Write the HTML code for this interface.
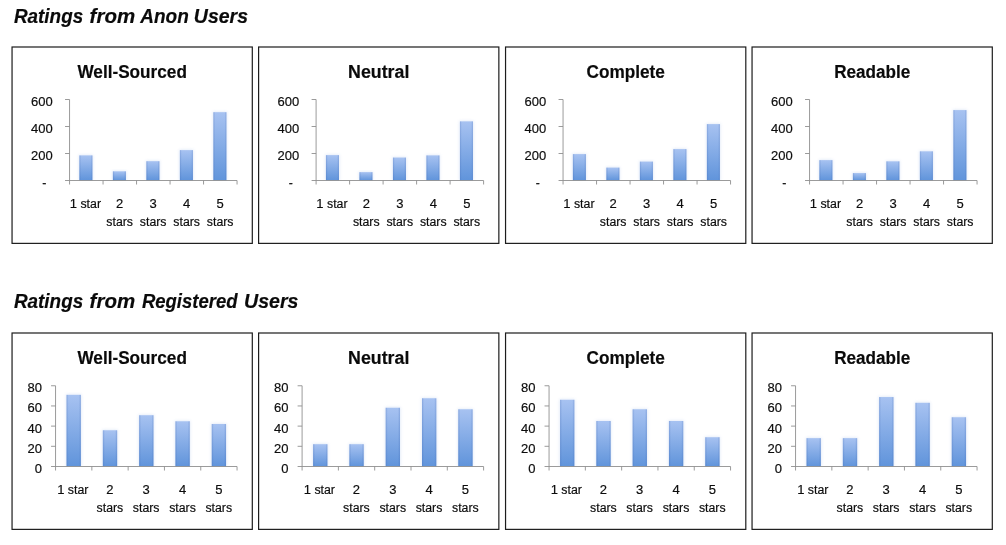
<!DOCTYPE html>
<html><head><meta charset="utf-8"><title>Ratings</title>
<style>
html,body{margin:0;padding:0;background:#fff;}
body{width:1006px;height:545px;overflow:hidden;font-family:"Liberation Sans",sans-serif;}
svg{display:block;will-change:transform;}
text{font-family:"Liberation Sans",sans-serif;fill:#0c0c0c;stroke:#0c0c0c;stroke-width:.18px;}
.h{font-size:20.4px;font-weight:bold;font-style:italic;fill:#0a0a0a;}
.t{font-size:17.5px;font-weight:bold;fill:#0a0a0a;}
.l{font-size:12.3px;}
.d{font-size:13px;}
</style></head><body>
<svg width="1006" height="545" viewBox="0 0 1006 545">
<defs>
<linearGradient id="g" x1="0" y1="0" x2="0" y2="1"><stop offset="0" stop-color="#a7c2f1"/><stop offset="1" stop-color="#6094db"/></linearGradient>
<linearGradient id="e" x1="0" y1="0" x2="1" y2="0"><stop offset="0" stop-color="#3c64b0" stop-opacity=".28"/><stop offset=".14" stop-color="#3c64b0" stop-opacity="0"/><stop offset=".86" stop-color="#3c64b0" stop-opacity="0"/><stop offset="1" stop-color="#3c64b0" stop-opacity=".28"/></linearGradient>
<filter id="sh" x="-40%" y="-10%" width="180%" height="120%"><feGaussianBlur stdDeviation="1.6"/></filter>
</defs>
<rect width="1006" height="545" fill="#fff"/>
<text x="13.90" y="23" class="h" textLength="69.30" lengthAdjust="spacingAndGlyphs">Ratings</text>
<text x="89.60" y="23" class="h" textLength="45.60" lengthAdjust="spacingAndGlyphs">from</text>
<text x="140.20" y="23" class="h" textLength="48.60" lengthAdjust="spacingAndGlyphs">Anon</text>
<text x="193.80" y="23" class="h" textLength="54.20" lengthAdjust="spacingAndGlyphs">Users</text>
<text x="13.90" y="307.75" class="h" textLength="69.30" lengthAdjust="spacingAndGlyphs">Ratings</text>
<text x="89.60" y="307.75" class="h" textLength="45.60" lengthAdjust="spacingAndGlyphs">from</text>
<text x="141.90" y="307.75" class="h" textLength="95.70" lengthAdjust="spacingAndGlyphs">Registered</text>
<text x="244.00" y="307.75" class="h" textLength="54.50" lengthAdjust="spacingAndGlyphs">Users</text>
<rect x="12.05" y="47.00" width="240.25" height="196.38" fill="#fff" stroke="#1c1c1c" stroke-width="1.2"/>
<text x="132.18" y="78.00" class="t" text-anchor="middle" textLength="109.5" lengthAdjust="spacingAndGlyphs">Well-Sourced</text>
<rect x="78.90" y="154.90" width="14.00" height="25.60" fill="#9db9e8" opacity="0.32" filter="url(#sh)"/>
<rect x="112.40" y="170.82" width="14.00" height="9.68" fill="#9db9e8" opacity="0.32" filter="url(#sh)"/>
<rect x="145.90" y="160.70" width="14.00" height="19.80" fill="#9db9e8" opacity="0.32" filter="url(#sh)"/>
<rect x="179.40" y="149.63" width="14.00" height="30.87" fill="#9db9e8" opacity="0.32" filter="url(#sh)"/>
<rect x="212.90" y="111.69" width="14.00" height="68.81" fill="#9db9e8" opacity="0.32" filter="url(#sh)"/>
<rect x="69.55" y="181.00" width="171.50" height="8" fill="#fff"/>
<rect x="79.40" y="155.40" width="13.00" height="25.10" fill="url(#g)"/>
<rect x="79.40" y="155.40" width="13.00" height="25.10" fill="url(#e)"/>
<rect x="112.90" y="171.32" width="13.00" height="9.18" fill="url(#g)"/>
<rect x="112.90" y="171.32" width="13.00" height="9.18" fill="url(#e)"/>
<rect x="146.40" y="161.20" width="13.00" height="19.30" fill="url(#g)"/>
<rect x="146.40" y="161.20" width="13.00" height="19.30" fill="url(#e)"/>
<rect x="179.90" y="150.13" width="13.00" height="30.37" fill="url(#g)"/>
<rect x="179.90" y="150.13" width="13.00" height="30.37" fill="url(#e)"/>
<rect x="213.40" y="112.19" width="13.00" height="68.31" fill="url(#g)"/>
<rect x="213.40" y="112.19" width="13.00" height="68.31" fill="url(#e)"/>
<path d="M69.55 99.50V184.50M65.05 180.50H237.05" stroke="#909090" stroke-width="0.9" fill="none"/>
<text x="44.25" y="187.40" class="l" text-anchor="middle">-</text>
<text x="52.65" y="160.40" class="l d" text-anchor="end">200</text>
<text x="52.65" y="133.40" class="l d" text-anchor="end">400</text>
<text x="52.65" y="106.40" class="l d" text-anchor="end">600</text>
<path d="M65.05 153.50H69.55M65.05 126.50H69.55M65.05 99.50H69.55M103.05 180.50V184.50M136.55 180.50V184.50M170.05 180.50V184.50M203.55 180.50V184.50M237.05 180.50V184.50" stroke="#909090" stroke-width="0.9" fill="none"/>
<text x="85.40" y="208.00" class="l" text-anchor="middle" textLength="31.3" lengthAdjust="spacingAndGlyphs"><tspan class="d">1</tspan> star</text>
<text x="119.70" y="208.00" class="l d" text-anchor="middle">2</text>
<text x="119.70" y="226.25" class="l" text-anchor="middle">stars</text>
<text x="153.20" y="208.00" class="l d" text-anchor="middle">3</text>
<text x="153.20" y="226.25" class="l" text-anchor="middle">stars</text>
<text x="186.70" y="208.00" class="l d" text-anchor="middle">4</text>
<text x="186.70" y="226.25" class="l" text-anchor="middle">stars</text>
<text x="220.20" y="208.00" class="l d" text-anchor="middle">5</text>
<text x="220.20" y="226.25" class="l" text-anchor="middle">stars</text>
<rect x="258.60" y="47.00" width="240.25" height="196.38" fill="#fff" stroke="#1c1c1c" stroke-width="1.2"/>
<text x="378.73" y="78.00" class="t" text-anchor="middle" textLength="61.25" lengthAdjust="spacingAndGlyphs">Neutral</text>
<rect x="325.45" y="154.62" width="14.00" height="25.88" fill="#9db9e8" opacity="0.32" filter="url(#sh)"/>
<rect x="358.95" y="171.63" width="14.00" height="8.87" fill="#9db9e8" opacity="0.32" filter="url(#sh)"/>
<rect x="392.45" y="157.06" width="14.00" height="23.44" fill="#9db9e8" opacity="0.32" filter="url(#sh)"/>
<rect x="425.95" y="154.90" width="14.00" height="25.60" fill="#9db9e8" opacity="0.32" filter="url(#sh)"/>
<rect x="459.45" y="120.88" width="14.00" height="59.62" fill="#9db9e8" opacity="0.32" filter="url(#sh)"/>
<rect x="316.10" y="181.00" width="171.50" height="8" fill="#fff"/>
<rect x="325.95" y="155.12" width="13.00" height="25.38" fill="url(#g)"/>
<rect x="325.95" y="155.12" width="13.00" height="25.38" fill="url(#e)"/>
<rect x="359.45" y="172.13" width="13.00" height="8.37" fill="url(#g)"/>
<rect x="359.45" y="172.13" width="13.00" height="8.37" fill="url(#e)"/>
<rect x="392.95" y="157.56" width="13.00" height="22.94" fill="url(#g)"/>
<rect x="392.95" y="157.56" width="13.00" height="22.94" fill="url(#e)"/>
<rect x="426.45" y="155.40" width="13.00" height="25.10" fill="url(#g)"/>
<rect x="426.45" y="155.40" width="13.00" height="25.10" fill="url(#e)"/>
<rect x="459.95" y="121.38" width="13.00" height="59.12" fill="url(#g)"/>
<rect x="459.95" y="121.38" width="13.00" height="59.12" fill="url(#e)"/>
<path d="M316.10 99.50V184.50M311.60 180.50H483.60" stroke="#909090" stroke-width="0.9" fill="none"/>
<text x="290.80" y="187.40" class="l" text-anchor="middle">-</text>
<text x="299.20" y="160.40" class="l d" text-anchor="end">200</text>
<text x="299.20" y="133.40" class="l d" text-anchor="end">400</text>
<text x="299.20" y="106.40" class="l d" text-anchor="end">600</text>
<path d="M311.60 153.50H316.10M311.60 126.50H316.10M311.60 99.50H316.10M349.60 180.50V184.50M383.10 180.50V184.50M416.60 180.50V184.50M450.10 180.50V184.50M483.60 180.50V184.50" stroke="#909090" stroke-width="0.9" fill="none"/>
<text x="331.95" y="208.00" class="l" text-anchor="middle" textLength="31.3" lengthAdjust="spacingAndGlyphs"><tspan class="d">1</tspan> star</text>
<text x="366.25" y="208.00" class="l d" text-anchor="middle">2</text>
<text x="366.25" y="226.25" class="l" text-anchor="middle">stars</text>
<text x="399.75" y="208.00" class="l d" text-anchor="middle">3</text>
<text x="399.75" y="226.25" class="l" text-anchor="middle">stars</text>
<text x="433.25" y="208.00" class="l d" text-anchor="middle">4</text>
<text x="433.25" y="226.25" class="l" text-anchor="middle">stars</text>
<text x="466.75" y="208.00" class="l d" text-anchor="middle">5</text>
<text x="466.75" y="226.25" class="l" text-anchor="middle">stars</text>
<rect x="505.55" y="47.00" width="240.25" height="196.38" fill="#fff" stroke="#1c1c1c" stroke-width="1.2"/>
<text x="625.67" y="78.00" class="t" text-anchor="middle" textLength="78.25" lengthAdjust="spacingAndGlyphs">Complete</text>
<rect x="572.40" y="153.60" width="14.00" height="26.90" fill="#9db9e8" opacity="0.32" filter="url(#sh)"/>
<rect x="605.90" y="167.10" width="14.00" height="13.40" fill="#9db9e8" opacity="0.32" filter="url(#sh)"/>
<rect x="639.40" y="161.10" width="14.00" height="19.39" fill="#9db9e8" opacity="0.32" filter="url(#sh)"/>
<rect x="672.90" y="148.60" width="14.00" height="31.90" fill="#9db9e8" opacity="0.32" filter="url(#sh)"/>
<rect x="706.40" y="123.60" width="14.00" height="56.90" fill="#9db9e8" opacity="0.32" filter="url(#sh)"/>
<rect x="563.05" y="181.00" width="171.50" height="8" fill="#fff"/>
<rect x="572.90" y="154.10" width="13.00" height="26.40" fill="url(#g)"/>
<rect x="572.90" y="154.10" width="13.00" height="26.40" fill="url(#e)"/>
<rect x="606.40" y="167.60" width="13.00" height="12.90" fill="url(#g)"/>
<rect x="606.40" y="167.60" width="13.00" height="12.90" fill="url(#e)"/>
<rect x="639.90" y="161.60" width="13.00" height="18.89" fill="url(#g)"/>
<rect x="639.90" y="161.60" width="13.00" height="18.89" fill="url(#e)"/>
<rect x="673.40" y="149.10" width="13.00" height="31.40" fill="url(#g)"/>
<rect x="673.40" y="149.10" width="13.00" height="31.40" fill="url(#e)"/>
<rect x="706.90" y="124.10" width="13.00" height="56.40" fill="url(#g)"/>
<rect x="706.90" y="124.10" width="13.00" height="56.40" fill="url(#e)"/>
<path d="M563.05 99.50V184.50M558.55 180.50H730.55" stroke="#909090" stroke-width="0.9" fill="none"/>
<text x="537.75" y="187.40" class="l" text-anchor="middle">-</text>
<text x="546.15" y="160.40" class="l d" text-anchor="end">200</text>
<text x="546.15" y="133.40" class="l d" text-anchor="end">400</text>
<text x="546.15" y="106.40" class="l d" text-anchor="end">600</text>
<path d="M558.55 153.50H563.05M558.55 126.50H563.05M558.55 99.50H563.05M596.55 180.50V184.50M630.05 180.50V184.50M663.55 180.50V184.50M697.05 180.50V184.50M730.55 180.50V184.50" stroke="#909090" stroke-width="0.9" fill="none"/>
<text x="578.90" y="208.00" class="l" text-anchor="middle" textLength="31.3" lengthAdjust="spacingAndGlyphs"><tspan class="d">1</tspan> star</text>
<text x="613.20" y="208.00" class="l d" text-anchor="middle">2</text>
<text x="613.20" y="226.25" class="l" text-anchor="middle">stars</text>
<text x="646.70" y="208.00" class="l d" text-anchor="middle">3</text>
<text x="646.70" y="226.25" class="l" text-anchor="middle">stars</text>
<text x="680.20" y="208.00" class="l d" text-anchor="middle">4</text>
<text x="680.20" y="226.25" class="l" text-anchor="middle">stars</text>
<text x="713.70" y="208.00" class="l d" text-anchor="middle">5</text>
<text x="713.70" y="226.25" class="l" text-anchor="middle">stars</text>
<rect x="752.05" y="47.00" width="240.25" height="196.38" fill="#fff" stroke="#1c1c1c" stroke-width="1.2"/>
<text x="872.17" y="78.00" class="t" text-anchor="middle" textLength="76.0" lengthAdjust="spacingAndGlyphs">Readable</text>
<rect x="818.90" y="159.62" width="14.00" height="20.88" fill="#9db9e8" opacity="0.32" filter="url(#sh)"/>
<rect x="852.40" y="172.58" width="14.00" height="7.92" fill="#9db9e8" opacity="0.32" filter="url(#sh)"/>
<rect x="885.90" y="160.84" width="14.00" height="19.66" fill="#9db9e8" opacity="0.32" filter="url(#sh)"/>
<rect x="919.40" y="150.84" width="14.00" height="29.65" fill="#9db9e8" opacity="0.32" filter="url(#sh)"/>
<rect x="952.90" y="109.60" width="14.00" height="70.90" fill="#9db9e8" opacity="0.32" filter="url(#sh)"/>
<rect x="809.55" y="181.00" width="171.50" height="8" fill="#fff"/>
<rect x="819.40" y="160.12" width="13.00" height="20.38" fill="url(#g)"/>
<rect x="819.40" y="160.12" width="13.00" height="20.38" fill="url(#e)"/>
<rect x="852.90" y="173.08" width="13.00" height="7.42" fill="url(#g)"/>
<rect x="852.90" y="173.08" width="13.00" height="7.42" fill="url(#e)"/>
<rect x="886.40" y="161.34" width="13.00" height="19.16" fill="url(#g)"/>
<rect x="886.40" y="161.34" width="13.00" height="19.16" fill="url(#e)"/>
<rect x="919.90" y="151.34" width="13.00" height="29.15" fill="url(#g)"/>
<rect x="919.90" y="151.34" width="13.00" height="29.15" fill="url(#e)"/>
<rect x="953.40" y="110.10" width="13.00" height="70.40" fill="url(#g)"/>
<rect x="953.40" y="110.10" width="13.00" height="70.40" fill="url(#e)"/>
<path d="M809.55 99.50V184.50M805.05 180.50H977.05" stroke="#909090" stroke-width="0.9" fill="none"/>
<text x="784.25" y="187.40" class="l" text-anchor="middle">-</text>
<text x="792.65" y="160.40" class="l d" text-anchor="end">200</text>
<text x="792.65" y="133.40" class="l d" text-anchor="end">400</text>
<text x="792.65" y="106.40" class="l d" text-anchor="end">600</text>
<path d="M805.05 153.50H809.55M805.05 126.50H809.55M805.05 99.50H809.55M843.05 180.50V184.50M876.55 180.50V184.50M910.05 180.50V184.50M943.55 180.50V184.50M977.05 180.50V184.50" stroke="#909090" stroke-width="0.9" fill="none"/>
<text x="825.40" y="208.00" class="l" text-anchor="middle" textLength="31.3" lengthAdjust="spacingAndGlyphs"><tspan class="d">1</tspan> star</text>
<text x="859.70" y="208.00" class="l d" text-anchor="middle">2</text>
<text x="859.70" y="226.25" class="l" text-anchor="middle">stars</text>
<text x="893.20" y="208.00" class="l d" text-anchor="middle">3</text>
<text x="893.20" y="226.25" class="l" text-anchor="middle">stars</text>
<text x="926.70" y="208.00" class="l d" text-anchor="middle">4</text>
<text x="926.70" y="226.25" class="l" text-anchor="middle">stars</text>
<text x="960.20" y="208.00" class="l d" text-anchor="middle">5</text>
<text x="960.20" y="226.25" class="l" text-anchor="middle">stars</text>
<rect x="12.05" y="333.00" width="240.25" height="196.38" fill="#fff" stroke="#1c1c1c" stroke-width="1.2"/>
<text x="132.18" y="364.00" class="t" text-anchor="middle" textLength="109.5" lengthAdjust="spacingAndGlyphs">Well-Sourced</text>
<rect x="66.05" y="394.34" width="15.30" height="72.16" fill="#9db9e8" opacity="0.32" filter="url(#sh)"/>
<rect x="102.35" y="429.77" width="15.30" height="36.73" fill="#9db9e8" opacity="0.32" filter="url(#sh)"/>
<rect x="138.65" y="414.73" width="15.30" height="51.77" fill="#9db9e8" opacity="0.32" filter="url(#sh)"/>
<rect x="174.95" y="420.78" width="15.30" height="45.72" fill="#9db9e8" opacity="0.32" filter="url(#sh)"/>
<rect x="211.25" y="423.51" width="15.30" height="42.99" fill="#9db9e8" opacity="0.32" filter="url(#sh)"/>
<rect x="55.55" y="467.00" width="185.50" height="8" fill="#fff"/>
<rect x="66.55" y="394.84" width="14.30" height="71.66" fill="url(#g)"/>
<rect x="66.55" y="394.84" width="14.30" height="71.66" fill="url(#e)"/>
<rect x="102.85" y="430.27" width="14.30" height="36.23" fill="url(#g)"/>
<rect x="102.85" y="430.27" width="14.30" height="36.23" fill="url(#e)"/>
<rect x="139.15" y="415.23" width="14.30" height="51.27" fill="url(#g)"/>
<rect x="139.15" y="415.23" width="14.30" height="51.27" fill="url(#e)"/>
<rect x="175.45" y="421.28" width="14.30" height="45.22" fill="url(#g)"/>
<rect x="175.45" y="421.28" width="14.30" height="45.22" fill="url(#e)"/>
<rect x="211.75" y="424.01" width="14.30" height="42.49" fill="url(#g)"/>
<rect x="211.75" y="424.01" width="14.30" height="42.49" fill="url(#e)"/>
<path d="M55.55 385.75V470.50M51.05 466.50H237.05" stroke="#909090" stroke-width="0.9" fill="none"/>
<text x="41.95" y="473.00" class="l d" text-anchor="end">0</text>
<text x="41.95" y="452.81" class="l d" text-anchor="end">20</text>
<text x="41.95" y="432.62" class="l d" text-anchor="end">40</text>
<text x="41.95" y="412.44" class="l d" text-anchor="end">60</text>
<text x="41.95" y="392.25" class="l d" text-anchor="end">80</text>
<path d="M51.05 446.31H55.55M51.05 426.12H55.55M51.05 405.94H55.55M51.05 385.75H55.55M91.85 466.50V470.50M128.15 466.50V470.50M164.45 466.50V470.50M200.75 466.50V470.50M237.05 466.50V470.50" stroke="#909090" stroke-width="0.9" fill="none"/>
<text x="72.80" y="494.00" class="l" text-anchor="middle" textLength="31.3" lengthAdjust="spacingAndGlyphs"><tspan class="d">1</tspan> star</text>
<text x="109.90" y="494.00" class="l d" text-anchor="middle">2</text>
<text x="109.90" y="512.25" class="l" text-anchor="middle">stars</text>
<text x="146.20" y="494.00" class="l d" text-anchor="middle">3</text>
<text x="146.20" y="512.25" class="l" text-anchor="middle">stars</text>
<text x="182.50" y="494.00" class="l d" text-anchor="middle">4</text>
<text x="182.50" y="512.25" class="l" text-anchor="middle">stars</text>
<text x="218.80" y="494.00" class="l d" text-anchor="middle">5</text>
<text x="218.80" y="512.25" class="l" text-anchor="middle">stars</text>
<rect x="258.60" y="333.00" width="240.25" height="196.38" fill="#fff" stroke="#1c1c1c" stroke-width="1.2"/>
<text x="378.73" y="364.00" class="t" text-anchor="middle" textLength="61.25" lengthAdjust="spacingAndGlyphs">Neutral</text>
<rect x="312.60" y="443.70" width="15.30" height="22.80" fill="#9db9e8" opacity="0.32" filter="url(#sh)"/>
<rect x="348.90" y="443.70" width="15.30" height="22.80" fill="#9db9e8" opacity="0.32" filter="url(#sh)"/>
<rect x="385.20" y="407.26" width="15.30" height="59.24" fill="#9db9e8" opacity="0.32" filter="url(#sh)"/>
<rect x="421.50" y="397.77" width="15.30" height="68.73" fill="#9db9e8" opacity="0.32" filter="url(#sh)"/>
<rect x="457.80" y="408.77" width="15.30" height="57.73" fill="#9db9e8" opacity="0.32" filter="url(#sh)"/>
<rect x="302.10" y="467.00" width="185.50" height="8" fill="#fff"/>
<rect x="313.10" y="444.20" width="14.30" height="22.30" fill="url(#g)"/>
<rect x="313.10" y="444.20" width="14.30" height="22.30" fill="url(#e)"/>
<rect x="349.40" y="444.20" width="14.30" height="22.30" fill="url(#g)"/>
<rect x="349.40" y="444.20" width="14.30" height="22.30" fill="url(#e)"/>
<rect x="385.70" y="407.76" width="14.30" height="58.74" fill="url(#g)"/>
<rect x="385.70" y="407.76" width="14.30" height="58.74" fill="url(#e)"/>
<rect x="422.00" y="398.27" width="14.30" height="68.23" fill="url(#g)"/>
<rect x="422.00" y="398.27" width="14.30" height="68.23" fill="url(#e)"/>
<rect x="458.30" y="409.27" width="14.30" height="57.23" fill="url(#g)"/>
<rect x="458.30" y="409.27" width="14.30" height="57.23" fill="url(#e)"/>
<path d="M302.10 385.75V470.50M297.60 466.50H483.60" stroke="#909090" stroke-width="0.9" fill="none"/>
<text x="288.50" y="473.00" class="l d" text-anchor="end">0</text>
<text x="288.50" y="452.81" class="l d" text-anchor="end">20</text>
<text x="288.50" y="432.62" class="l d" text-anchor="end">40</text>
<text x="288.50" y="412.44" class="l d" text-anchor="end">60</text>
<text x="288.50" y="392.25" class="l d" text-anchor="end">80</text>
<path d="M297.60 446.31H302.10M297.60 426.12H302.10M297.60 405.94H302.10M297.60 385.75H302.10M338.40 466.50V470.50M374.70 466.50V470.50M411.00 466.50V470.50M447.30 466.50V470.50M483.60 466.50V470.50" stroke="#909090" stroke-width="0.9" fill="none"/>
<text x="319.35" y="494.00" class="l" text-anchor="middle" textLength="31.3" lengthAdjust="spacingAndGlyphs"><tspan class="d">1</tspan> star</text>
<text x="356.45" y="494.00" class="l d" text-anchor="middle">2</text>
<text x="356.45" y="512.25" class="l" text-anchor="middle">stars</text>
<text x="392.75" y="494.00" class="l d" text-anchor="middle">3</text>
<text x="392.75" y="512.25" class="l" text-anchor="middle">stars</text>
<text x="429.05" y="494.00" class="l d" text-anchor="middle">4</text>
<text x="429.05" y="512.25" class="l" text-anchor="middle">stars</text>
<text x="465.35" y="494.00" class="l d" text-anchor="middle">5</text>
<text x="465.35" y="512.25" class="l" text-anchor="middle">stars</text>
<rect x="505.55" y="333.00" width="240.25" height="196.38" fill="#fff" stroke="#1c1c1c" stroke-width="1.2"/>
<text x="625.67" y="364.00" class="t" text-anchor="middle" textLength="78.25" lengthAdjust="spacingAndGlyphs">Complete</text>
<rect x="559.55" y="399.28" width="15.30" height="67.22" fill="#9db9e8" opacity="0.32" filter="url(#sh)"/>
<rect x="595.85" y="420.48" width="15.30" height="46.02" fill="#9db9e8" opacity="0.32" filter="url(#sh)"/>
<rect x="632.15" y="408.77" width="15.30" height="57.73" fill="#9db9e8" opacity="0.32" filter="url(#sh)"/>
<rect x="668.45" y="420.48" width="15.30" height="46.02" fill="#9db9e8" opacity="0.32" filter="url(#sh)"/>
<rect x="704.75" y="436.73" width="15.30" height="29.77" fill="#9db9e8" opacity="0.32" filter="url(#sh)"/>
<rect x="549.05" y="467.00" width="185.50" height="8" fill="#fff"/>
<rect x="560.05" y="399.78" width="14.30" height="66.72" fill="url(#g)"/>
<rect x="560.05" y="399.78" width="14.30" height="66.72" fill="url(#e)"/>
<rect x="596.35" y="420.98" width="14.30" height="45.52" fill="url(#g)"/>
<rect x="596.35" y="420.98" width="14.30" height="45.52" fill="url(#e)"/>
<rect x="632.65" y="409.27" width="14.30" height="57.23" fill="url(#g)"/>
<rect x="632.65" y="409.27" width="14.30" height="57.23" fill="url(#e)"/>
<rect x="668.95" y="420.98" width="14.30" height="45.52" fill="url(#g)"/>
<rect x="668.95" y="420.98" width="14.30" height="45.52" fill="url(#e)"/>
<rect x="705.25" y="437.23" width="14.30" height="29.27" fill="url(#g)"/>
<rect x="705.25" y="437.23" width="14.30" height="29.27" fill="url(#e)"/>
<path d="M549.05 385.75V470.50M544.55 466.50H730.55" stroke="#909090" stroke-width="0.9" fill="none"/>
<text x="535.45" y="473.00" class="l d" text-anchor="end">0</text>
<text x="535.45" y="452.81" class="l d" text-anchor="end">20</text>
<text x="535.45" y="432.62" class="l d" text-anchor="end">40</text>
<text x="535.45" y="412.44" class="l d" text-anchor="end">60</text>
<text x="535.45" y="392.25" class="l d" text-anchor="end">80</text>
<path d="M544.55 446.31H549.05M544.55 426.12H549.05M544.55 405.94H549.05M544.55 385.75H549.05M585.35 466.50V470.50M621.65 466.50V470.50M657.95 466.50V470.50M694.25 466.50V470.50M730.55 466.50V470.50" stroke="#909090" stroke-width="0.9" fill="none"/>
<text x="566.30" y="494.00" class="l" text-anchor="middle" textLength="31.3" lengthAdjust="spacingAndGlyphs"><tspan class="d">1</tspan> star</text>
<text x="603.40" y="494.00" class="l d" text-anchor="middle">2</text>
<text x="603.40" y="512.25" class="l" text-anchor="middle">stars</text>
<text x="639.70" y="494.00" class="l d" text-anchor="middle">3</text>
<text x="639.70" y="512.25" class="l" text-anchor="middle">stars</text>
<text x="676.00" y="494.00" class="l d" text-anchor="middle">4</text>
<text x="676.00" y="512.25" class="l" text-anchor="middle">stars</text>
<text x="712.30" y="494.00" class="l d" text-anchor="middle">5</text>
<text x="712.30" y="512.25" class="l" text-anchor="middle">stars</text>
<rect x="752.05" y="333.00" width="240.25" height="196.38" fill="#fff" stroke="#1c1c1c" stroke-width="1.2"/>
<text x="872.17" y="364.00" class="t" text-anchor="middle" textLength="76.0" lengthAdjust="spacingAndGlyphs">Readable</text>
<rect x="806.05" y="437.64" width="15.30" height="28.86" fill="#9db9e8" opacity="0.32" filter="url(#sh)"/>
<rect x="842.35" y="437.64" width="15.30" height="28.86" fill="#9db9e8" opacity="0.32" filter="url(#sh)"/>
<rect x="878.65" y="396.56" width="15.30" height="69.94" fill="#9db9e8" opacity="0.32" filter="url(#sh)"/>
<rect x="914.95" y="402.31" width="15.30" height="64.19" fill="#9db9e8" opacity="0.32" filter="url(#sh)"/>
<rect x="951.25" y="416.75" width="15.30" height="49.75" fill="#9db9e8" opacity="0.32" filter="url(#sh)"/>
<rect x="795.55" y="467.00" width="185.50" height="8" fill="#fff"/>
<rect x="806.55" y="438.14" width="14.30" height="28.36" fill="url(#g)"/>
<rect x="806.55" y="438.14" width="14.30" height="28.36" fill="url(#e)"/>
<rect x="842.85" y="438.14" width="14.30" height="28.36" fill="url(#g)"/>
<rect x="842.85" y="438.14" width="14.30" height="28.36" fill="url(#e)"/>
<rect x="879.15" y="397.06" width="14.30" height="69.44" fill="url(#g)"/>
<rect x="879.15" y="397.06" width="14.30" height="69.44" fill="url(#e)"/>
<rect x="915.45" y="402.81" width="14.30" height="63.69" fill="url(#g)"/>
<rect x="915.45" y="402.81" width="14.30" height="63.69" fill="url(#e)"/>
<rect x="951.75" y="417.25" width="14.30" height="49.25" fill="url(#g)"/>
<rect x="951.75" y="417.25" width="14.30" height="49.25" fill="url(#e)"/>
<path d="M795.55 385.75V470.50M791.05 466.50H977.05" stroke="#909090" stroke-width="0.9" fill="none"/>
<text x="781.95" y="473.00" class="l d" text-anchor="end">0</text>
<text x="781.95" y="452.81" class="l d" text-anchor="end">20</text>
<text x="781.95" y="432.62" class="l d" text-anchor="end">40</text>
<text x="781.95" y="412.44" class="l d" text-anchor="end">60</text>
<text x="781.95" y="392.25" class="l d" text-anchor="end">80</text>
<path d="M791.05 446.31H795.55M791.05 426.12H795.55M791.05 405.94H795.55M791.05 385.75H795.55M831.85 466.50V470.50M868.15 466.50V470.50M904.45 466.50V470.50M940.75 466.50V470.50M977.05 466.50V470.50" stroke="#909090" stroke-width="0.9" fill="none"/>
<text x="812.80" y="494.00" class="l" text-anchor="middle" textLength="31.3" lengthAdjust="spacingAndGlyphs"><tspan class="d">1</tspan> star</text>
<text x="849.90" y="494.00" class="l d" text-anchor="middle">2</text>
<text x="849.90" y="512.25" class="l" text-anchor="middle">stars</text>
<text x="886.20" y="494.00" class="l d" text-anchor="middle">3</text>
<text x="886.20" y="512.25" class="l" text-anchor="middle">stars</text>
<text x="922.50" y="494.00" class="l d" text-anchor="middle">4</text>
<text x="922.50" y="512.25" class="l" text-anchor="middle">stars</text>
<text x="958.80" y="494.00" class="l d" text-anchor="middle">5</text>
<text x="958.80" y="512.25" class="l" text-anchor="middle">stars</text>
</svg>
</body></html>
